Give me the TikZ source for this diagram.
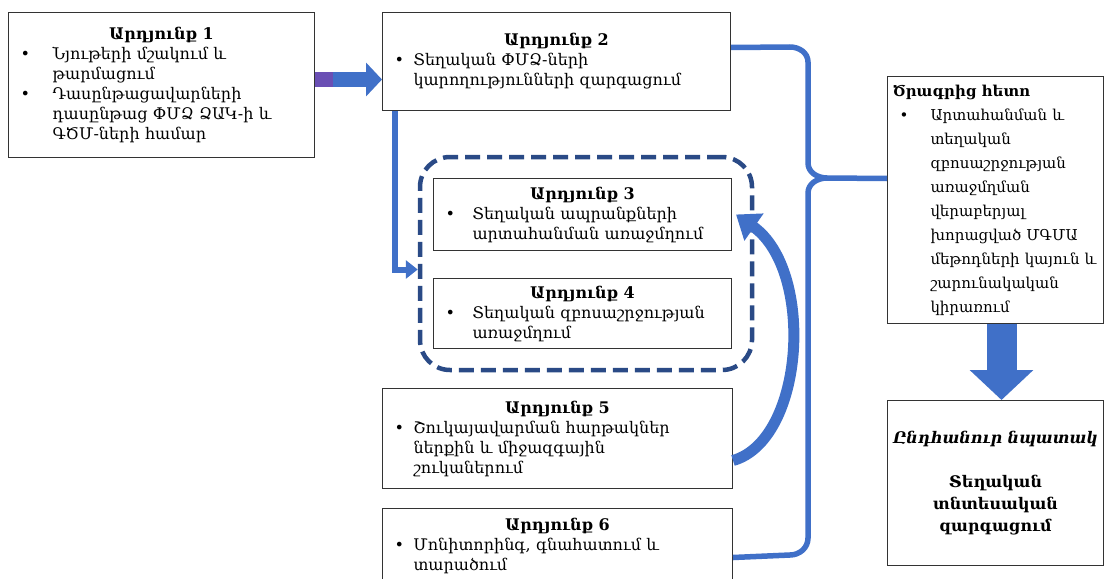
\documentclass[tikz,border=0pt]{standalone}
\usepackage{fontspec}
\setmainfont{DejaVu Serif}
\usetikzlibrary{arrows.meta,calc}
\definecolor{flow}{HTML}{4070C8}
\definecolor{navy}{HTML}{2A4A86}
\definecolor{violet}{HTML}{6A4FB4}
\definecolor{edge}{HTML}{333333}

% centred bold heading of an outcome box
\newcommand{\outhead}[1]{{\centering\bfseries #1\par}}
% bullet item with hanging indent (optional argument = indent)
\newcommand{\bulletline}[2][38pt]{\hangindent=#1\hangafter=1\noindent\makebox[#1][l]{\hspace{7pt}•}#2\par}

\tikzset{
  box/.style={draw=edge, line width=1pt, fill=white, inner xsep=5pt, inner ysep=3pt,
    anchor=north west, align=left, font=\fontsize{16}{20}\selectfont},
  group/.style={draw=navy, line width=4.5pt, dash pattern=on 15pt off 7pt,
    rounded corners=30pt, inner sep=0pt},
  flowline/.style={draw=flow, line width=6pt},
  brace/.style={draw=flow, line width=5.5pt, line join=round},
}

\begin{document}
\begin{tikzpicture}[x=1pt, y=-1pt]
\useasboundingbox (0,0) rectangle (1107,578);
\clip (0,0) rectangle (1107,578);
\fill[white] (0,0) rectangle (1107,578);

% dashed group around outcomes 3 and 4
\node[group, minimum width=332pt, minimum height=213pt] (grp) at (586,263.5) {};

% outcome boxes
\node[box, minimum width=306pt, minimum height=145pt, text width=296pt] (b1) at (8,12) {%
  \outhead{Արդյունք 1}
  \bulletline[39pt]{Նյութերի մշակում և\newline թարմացում}
  \bulletline[39pt]{Դասընթացավարների\newline դասընթաց  ՓՄՁ ՁԱԿ-ի և\newline ԳԾՄ-ների համար}};

\node[box, minimum width=348pt, minimum height=98pt, text width=338pt] (b2) at (382,12) {%
  \outhead{Արդյունք 2}
  \bulletline[26pt]{Տեղական ՓՄՁ-ների\newline կարողությունների զարգացում}};

\node[box, minimum width=298pt, minimum height=72pt, text width=288pt] (b3) at (433,178) {%
  \outhead{Արդյունք 3}
  \bulletline[34pt]{Տեղական ապրանքների\newline արտահանման առաջմղում}};

\node[box, minimum width=298pt, minimum height=70pt, text width=288pt] (b4) at (433,278) {%
  \outhead{Արդյունք 4}
  \bulletline[34pt]{Տեղական զբոսաշրջության\newline առաջմղում}};

\node[box, minimum width=350pt, minimum height=100pt, text width=340pt] (b5) at (382,388) {%
  \outhead{Արդյունք 5}
  \bulletline[26pt]{Շուկայավարման հարթակներ\newline ներքին և միջազգային\newline շուկաներում}};

\node[box, minimum width=350pt, minimum height=74pt, text width=340pt] (b6) at (382,508) {%
  \outhead{Արդյունք 6}
  \bulletline[26pt]{Մոնիտորինգ, գնահատում և\newline տարածում}};

\node[box, minimum width=216pt, minimum height=247pt, text width=206pt,
      font=\fontsize{15}{24}\selectfont] (b7) at (887,76) {%
  {\bfseries Ծրագրից հետո\par}
  \bulletline[38pt]{Արտահանման և\newline տեղական\newline զբոսաշրջության\newline առաջմղման\newline վերաբերյալ\newline խորացված ՄԳՄԱ\newline մեթոդների կայուն և\newline շարունակական\newline կիրառում}};

\node[box, minimum width=216pt, minimum height=165pt, text width=206pt, align=center,
      font=\fontsize{16}{22}\selectfont] (b8) at (887,400) {%
  \textbf{\textit{Ընդհանուր նպատակ}}\\[22pt]
  \textbf{Տեղական}\\ \textbf{տնտեսական}\\ \textbf{զարգացում}};

% block arrow from outcome 1 to outcome 2
\coordinate (ay) at (0,79.5);
\draw[line width=15pt, flow, -{Triangle[length=16pt,width=33pt]}] (b1.east |- ay) -- (b2.west |- ay);
\draw[line width=15pt, violet] (b1.east |- ay) -- ++(18,0);

% connector from outcome 2 into the dashed group
\draw[flowline, -{Triangle[length=12pt,width=18pt]}] ([xshift=13pt]b2.south west) |- ([yshift=-6pt]grp.west);

% curved feedback arrow from outcome 5 to outcome 3
\draw[line width=11pt, flow, -{Triangle[length=22pt,width=32pt]}]
  ([yshift=-22pt]b5.east) .. controls (805,440) and (815,270) .. ([xshift=4pt]b3.east);

% brace collecting outcomes 2-6 into the post-programme box
\coordinate (tip) at (827,178);
\draw[brace] ([yshift=14pt]b2.east) -- (790,47) to[out=0,in=90] (808,62) -- (808,163)
  to[out=-90,in=180] (tip) -- ([yshift=21.5pt]b7.west);
\draw[brace] (tip) to[out=180,in=90] (808,193) -- (808,538)
  to[out=-90,in=0] (790,555) -- ([yshift=-12pt]b6.east);

% block arrow down to the overall goal
\draw[line width=30pt, flow, -{Triangle[length=30pt,width=62pt]}] ([xshift=6pt]b7.south) -- ([xshift=6pt]b8.north);
\end{tikzpicture}
\end{document}
